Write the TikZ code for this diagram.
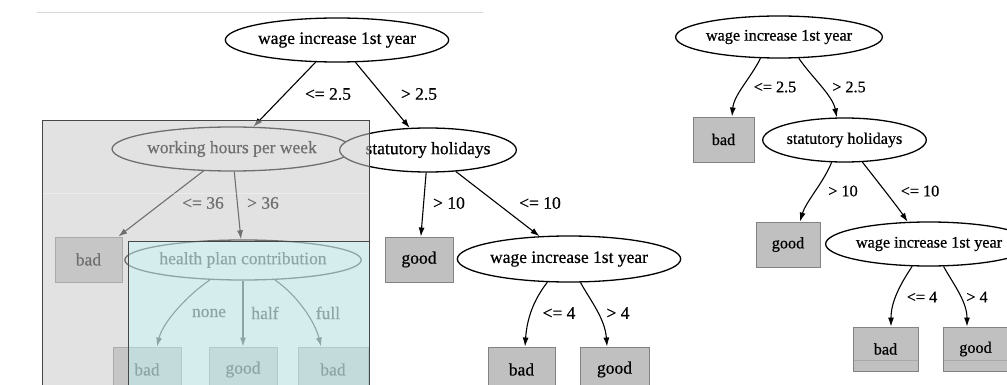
\documentclass[tikz,border=0pt]{standalone}
\usepackage{fontspec}
\setmainfont{Liberation Serif}[FakeBold=0.6]
\usetikzlibrary{shapes.geometric,arrows.meta}
\definecolor{boxfill}{RGB}{192,192,192}
\definecolor{boxedge}{RGB}{130,130,130}
\definecolor{grayov}{RGB}{203,203,203}
\definecolor{cyanov}{RGB}{195,255,255}
\definecolor{frameline}{RGB}{70,70,70}
\definecolor{topline}{RGB}{215,215,215}
\newcommand\LeftFont{\fontsize{17.5}{20}\selectfont}
\newcommand\RightFont{\fontsize{16.2}{19}\selectfont}
\tikzset{
  tn/.style={ellipse, draw=black, line width=1.3pt, fill=white, inner sep=0pt},
  leaf/.style={rectangle, draw=boxedge, fill=boxfill, line width=0.9pt, inner sep=0pt,
    minimum width=68pt, minimum height=45pt},
  rleaf/.style={leaf, minimum width=64pt, minimum height=45pt},
  dbl/.style={path picture={\draw[boxedge!70, line width=0.6pt]
     ([yshift=11pt]path picture bounding box.south west) --
     ([yshift=11pt]path picture bounding box.south east);}},
  ed/.style={draw=black, line width=1.1pt, -{Latex[length=9pt,width=6pt]}},
  lbl/.style={inner sep=0pt},
  lfont/.style={font=\LeftFont},
  rfont/.style={font=\RightFont},
}
\begin{document}
\begin{tikzpicture}[x=1pt,y=-1pt]
\clip (0,0) rectangle (1007,385);
\fill[white] (0,0) rectangle (1007,385);
\coordinate (tl1) at (37,12);
\coordinate (tl2) at (483,12);
\draw[topline, line width=0.8pt] (tl1) -- (tl2);

% ---------- left tree ----------
\begin{scope}[lfont]
\node[tn, minimum width=180pt, minimum height=44pt] (r1) at (337,40) {wage increase 1st year};
\node[tn, minimum width=198pt, minimum height=44pt] (wh) at (232,149) {working hours per week};
\node[tn, minimum width=150pt, minimum height=44pt] (st) at (428,150) {statutory holidays};
\node[leaf, minimum width=67pt] (b1) at (88.5,259.5) {bad};
\node[tn, minimum width=198pt, minimum height=40pt] (hp) at (243,260) {health plan contribution};
\node[leaf] (g1) at (419,259.5) {good};
\node[tn, minimum width=186pt, minimum height=46pt] (w2) at (569,259) {wage increase 1st year};
\node[leaf] (b2) at (147,369.5) {bad};
\node[leaf] (g2) at (243,369.5) {good};
\node[leaf, minimum width=70pt] (b3) at (333,369.5) {bad};
\node[leaf, minimum width=67pt] (b4) at (521.5,369.5) {bad};
\node[leaf, minimum width=69pt] (g3) at (614.5,369.5) {good};

\draw[ed] (r1) -- (wh);
\draw[ed] (r1) -- (st);
\draw[ed] (wh) -- (b1);
\draw[ed] (wh) -- (hp);
\draw[ed] (st) -- (g1);
\draw[ed] (st) -- (w2);
\draw[ed] (hp.211) .. controls +(-22,15) and +(6,-25) .. ([xshift=10pt]b2.north);
\draw[ed] (hp.south) -- (g2.north);
\draw[ed] (hp.328) .. controls +(22,15) and +(-6,-25) .. ([xshift=-12pt]b3.north);
\draw[ed] (w2.227) .. controls +(-14,18) and +(2,-28) .. ([xshift=3.5pt]b4.north);
\draw[ed] (w2.296) .. controls +(10,18) and +(-2,-28) .. ([xshift=-7.5pt]g3.north);

\node[lbl] (l1) at (328,94) {<= 2.5};
\node[lbl] (l2) at (419,94) {> 2.5};
\node[lbl] (l3) at (203,203) {<= 36};
\node[lbl] (l4) at (263,203) {> 36};
\node[lbl] (l5) at (209,313) {none};
\node[lbl] (l6) at (265,313) {half};
\node[lbl] (l7) at (328,313) {full};
\node[lbl] (l8) at (449,203) {> 10};
\node[lbl] (l9) at (540,203) {<= 10};
\node[lbl] (l10) at (559,313) {<= 4};
\node[lbl] (l11) at (618,313) {> 4};
\end{scope}

% overlays
\fill[grayov, fill opacity=0.55] (42,121) rectangle (369,400);
\draw[white, opacity=0.35, line width=0.8pt] (42,193) -- (369,193);
\draw[frameline, line width=1pt] (42,400) -- (42,121) -- (369,121) -- (369,400);
\fill[cyanov, fill opacity=0.38] (128,241) rectangle (369,400);
\draw[frameline, line width=1pt] (128,400) -- (128,241) -- (369,241) -- (369,400);

% ---------- right tree ----------
\begin{scope}[rfont]
\node[tn, minimum width=175pt, minimum height=42pt] (R1) at (779,37) {wage increase 1st year};
\node[rleaf, minimum width=61pt] (Rb1) at (723.5,139.5) {bad};
\node[tn, minimum width=145pt, minimum height=44pt] (RS) at (844.5,140) {statutory holidays};
\node[rleaf] (Rg1) at (788,244.5) {good};
\node[tn, minimum width=174pt, minimum height=44pt] (RW) at (929,244) {wage increase 1st year};
\node[rleaf, dbl, minimum width=65pt, minimum height=44pt] (Rb2) at (885.5,349) {bad};
\node[rleaf, dbl, minimum width=65pt, minimum height=44pt] (Rg2) at (975.5,349) {good};

\draw[ed] (R1.229) .. controls +(-10,20) and +(2,-22) .. ([xshift=8.5pt]Rb1.north);
\draw[ed] (R1.313) .. controls +(12,18) and +(-4,-22) .. (RS.109);
\draw[ed] (RS.240) .. controls +(-8,20) and +(6,-20) .. ([xshift=12pt]Rg1.north);
\draw[ed] (RS.309) .. controls +(14,18) and +(-10,-15) .. (RW.134);
\draw[ed] (RW.233) .. controls +(-12,18) and +(0,-25) .. ([xshift=5.5pt]Rb2.north);
\draw[ed] (RW.303) .. controls +(10,18) and +(0,-25) .. ([xshift=-8.5pt]Rg2.north);

\node[lbl] (m1) at (775,87) {<= 2.5};
\node[lbl] (m2) at (849,87) {> 2.5};
\node[lbl] (m3) at (843,191) {> 10};
\node[lbl] (m4) at (920,191) {<= 10};
\node[lbl] (m5) at (922,297) {<= 4};
\node[lbl] (m6) at (977,297) {> 4};
\end{scope}
\end{tikzpicture}
\end{document}
